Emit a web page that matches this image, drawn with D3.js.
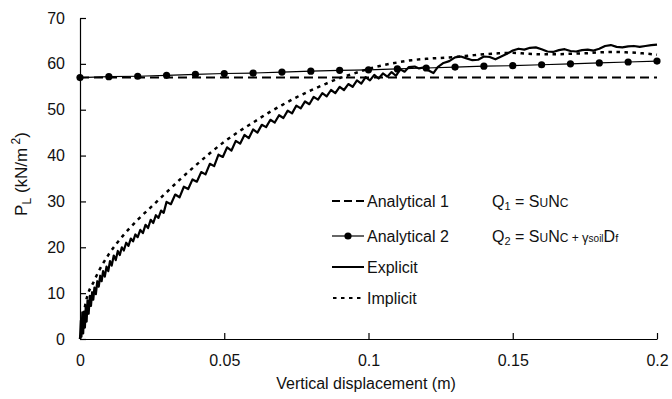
<!DOCTYPE html>
<html><head><meta charset="utf-8">
<script src="https://cdn.jsdelivr.net/npm/d3@7"></script>
<style>
body{margin:0;background:#fff;}
svg{display:block;font-family:"Liberation Sans",Arial,sans-serif;}
</style></head>
<body><svg id="c" width="672" height="399"></svg>
<script>
const xTicks = [0, 0.05, 0.1, 0.15, 0.2];
const xTickLabels = ["0", "0.05", "0.1", "0.15", "0.2"];
const yTicks = [0, 10, 20, 30, 40, 50, 60, 70];

const analytical1 = [[0, 57], [0.2, 57]];
const analytical2 = [[0,57.0],[0.01,57.2],[0.02,57.3],[0.03,57.5],[0.04,57.7],[0.05,57.9],[0.06,58.0],[0.07,58.2],[0.08,58.4],[0.09,58.6],[0.1,58.7],[0.11,58.9],[0.12,59.1],[0.13,59.3],[0.14,59.5],[0.15,59.6],[0.16,59.8],[0.17,60.0],[0.18,60.2],[0.19,60.4],[0.2,60.6]];

const explicit = [[0,0],[0.0003,4.0],[0.0005,0.5],[0.0008,5.8],[0.0011,1.2],[0.0014,6.0],[0.0017,2.5],[0.002,7.2],[0.0023,3.8],[0.0026,8.4],[0.003,5.5],[0.0034,9.4],[0.0038,7.2],[0.0042,10.2],[0.0046,8.6],[0.005,11.2],[0.0055,9.8],[0.006,12.6],[0.0065,11.4],[0.007,13.8],[0.0075,12.6],[0.008,14.8],[0.0086,13.6],[0.0092,15.8],[0.0098,14.8],[0.0104,17.0],[0.011,16.0],[0.0117,18.2],[0.0124,17.2],[0.0131,19.2],[0.0138,18.3],[0.0145,20.0],[0.0152,19.3],[0.016,21.0],[0.0168,20.3],[0.0176,21.9],[0.0184,21.3],[0.0192,22.8],[0.02,22.2],[0.0209,23.8],[0.0218,23.1],[0.0227,24.9],[0.0236,24.2],[0.0245,26.0],[0.0254,25.3],[0.0263,27.0],[0.0272,26.4],[0.0281,28.0],[0.029,27.5],
[0.03,29.9],[0.0315,29.4],[0.033,31.5],[0.0345,30.9],[0.036,33.2],[0.0375,32.7],[0.039,34.8],[0.0405,34.3],[0.042,36.4],[0.0435,35.9],[0.045,38.2],[0.0465,37.7],[0.048,40.2],[0.0495,39.7],[0.051,41.8],[0.0525,41.1],[0.054,43.2],[0.0555,42.6],[0.057,44.5],[0.0585,43.8],[0.06,45.7],[0.0615,45.0],[0.063,46.7],[0.0645,46.2],[0.066,47.8],[0.0675,47.2],[0.069,48.8],[0.0705,48.2],[0.072,49.8],[0.0735,49.2],[0.075,50.9],[0.0765,50.3],[0.078,51.8],[0.0795,51.2],[0.081,52.8],[0.0825,52.2],[0.084,53.6],[0.0855,52.9],[0.087,54.3],[0.0885,53.6],[0.09,55.0],[0.0915,54.3],[0.093,55.6],[0.0945,55.0],[0.096,56.4],[0.0975,55.7],[0.099,57.1],[0.1005,56.4],[0.102,57.6],[0.1035,56.8],[0.105,57.9],[0.1065,57.2],[0.108,58.2],[0.1095,57.4],[0.111,58.8],[0.1125,58.3],[0.114,59.3],[0.116,59.4],[0.1175,59.0],[0.119,59.2],[0.121,58.5],[0.1225,58.0],[0.124,59.3],[0.126,60.2],[0.128,60.6],[0.13,61.4],[0.132,61.6],[0.134,61.2],[0.136,60.8],[0.138,60.9],[0.14,61.6],[0.142,61.5],[0.144,61.0],[0.146,61.6],[0.148,62.2],[0.15,62.9],[0.152,63.3],[0.154,63.1],[0.156,63.5],[0.158,63.6],[0.16,63.2],[0.162,62.7],[0.164,62.6],[0.166,63.0],[0.168,63.2],[0.17,62.8],[0.172,62.7],[0.174,63.0],[0.176,63.1],[0.178,62.9],[0.18,63.3],[0.182,63.9],[0.184,64.1],[0.186,63.7],[0.188,63.6],[0.19,63.8],[0.192,63.9],[0.194,63.7],[0.196,63.9],[0.198,64.1],[0.2,64.2]];

const implicit = [[0,0],[0.002,8.0],[0.005,12.8],[0.01,18.5],[0.015,22.6],[0.02,26.0],[0.025,29.0],[0.03,32.0],[0.035,35.0],[0.04,37.8],[0.045,40.5],[0.05,43.0],[0.055,45.2],[0.06,47.2],[0.065,49.2],[0.07,51.0],[0.075,52.7],[0.08,54.2],[0.085,55.6],[0.09,56.9],[0.095,57.9],[0.1,58.9],[0.105,59.7],[0.11,60.3],[0.115,60.8],[0.12,61.1],[0.125,61.3],[0.13,61.5],[0.135,61.8],[0.14,62.1],[0.145,62.3],[0.15,62.4],[0.155,62.2],[0.16,62.1],[0.165,62.1],[0.17,62.2],[0.175,62.3],[0.18,62.5],[0.185,62.6],[0.19,62.5],[0.195,62.3],[0.2,62.0]];

const legendLabels = ["Analytical 1", "Analytical 2", "Explicit", "Implicit"];

const svg = d3.select("#c");
const x = d3.scaleLinear().domain([0, 0.2]).range([80, 657]);
const y = d3.scaleLinear().domain([0, 70]).range([339, 18]);

const line = d3.line().x(d => x(d[0])).y(d => y(d[1]));

// axes
const ya = svg.append("g").attr("transform", "translate(80,0)")
  .call(d3.axisLeft(y).tickValues(yTicks).tickSizeInner(-6).tickSizeOuter(0).tickPadding(15));
const xa = svg.append("g").attr("transform", "translate(0,339)")
  .call(d3.axisBottom(x).tickValues(xTicks).tickFormat((d,i) => xTickLabels[i]).tickSizeInner(-6).tickSizeOuter(0).tickPadding(16));
[ya, xa].forEach(a => {
  a.selectAll("path,line").attr("stroke", "#000").attr("stroke-width", 1.2);
  a.selectAll("text").attr("font-size", 16).attr("fill", "#111").attr("font-family", "Liberation Sans, Arial, sans-serif");
});

// series
svg.append("path").datum(analytical1).attr("d", line).attr("fill", "none")
  .attr("stroke", "#000").attr("stroke-width", 2).attr("stroke-dasharray", "9,5");
svg.append("path").datum(implicit).attr("d", line.curve(d3.curveMonotoneX)).attr("fill", "none")
  .attr("stroke", "#000").attr("stroke-width", 2.5).attr("stroke-dasharray", "3.5,4.5");
line.curve(d3.curveLinear);
svg.append("path").datum(explicit).attr("d", line).attr("fill", "none")
  .attr("stroke", "#000").attr("stroke-width", 2.2).attr("stroke-linejoin", "round");
svg.append("path").datum(analytical2).attr("d", line).attr("fill", "none")
  .attr("stroke", "#000").attr("stroke-width", 1.2);
svg.selectAll("circle.a2").data(analytical2).enter().append("circle").attr("class", "a2")
  .attr("cx", d => x(d[0])).attr("cy", d => y(d[1])).attr("r", 3.6).attr("fill", "#000");

// axis titles
svg.append("text").attr("x", 366).attr("y", 389).attr("text-anchor", "middle")
  .attr("font-size", 16).attr("fill", "#111").text("Vertical displacement (m)");
const yl = svg.append("text").attr("transform", "translate(27,174) rotate(-90)")
  .attr("text-anchor", "middle").attr("font-size", 17).attr("fill", "#111");
yl.append("tspan").text("P");
yl.append("tspan").attr("font-size", 12).attr("dy", 4).text("L");
yl.append("tspan").attr("dy", -4).text(" (kN/m");
yl.append("tspan").attr("font-size", 12).attr("dy", -7).text(" 2");
yl.append("tspan").attr("dy", 7).text(")");

// legend
const ly = [201, 236, 267, 298];
const lg = svg.append("g");
lg.append("line").attr("x1", 332).attr("x2", 364).attr("y1", ly[0]).attr("y2", ly[0])
  .attr("stroke", "#000").attr("stroke-width", 2).attr("stroke-dasharray", "8,4");
lg.append("line").attr("x1", 332).attr("x2", 364).attr("y1", ly[1]).attr("y2", ly[1])
  .attr("stroke", "#000").attr("stroke-width", 1.2);
lg.append("circle").attr("cx", 348).attr("cy", ly[1]).attr("r", 3.6).attr("fill", "#000");
lg.append("line").attr("x1", 332).attr("x2", 364).attr("y1", ly[2]).attr("y2", ly[2])
  .attr("stroke", "#000").attr("stroke-width", 2);
lg.append("line").attr("x1", 333).attr("x2", 364).attr("y1", ly[3]).attr("y2", ly[3])
  .attr("stroke", "#000").attr("stroke-width", 2).attr("stroke-dasharray", "3.5,4.5");
legendLabels.forEach((t, i) => {
  lg.append("text").attr("x", 367).attr("y", ly[i] + 6).attr("font-size", 16).attr("fill", "#111").text(t);
});

// equations
function eq(yPos, parts) {
  const t = svg.append("text").attr("x", 492).attr("y", yPos).attr("font-size", 16).attr("fill", "#111");
  parts.forEach(p => {
    const s = t.append("tspan").text(p[0]);
    if (p[1]) s.attr("font-size", p[1]);
    if (p[2]) s.attr("dy", p[2]);
  });
}
eq(207, [["Q"], ["1", 11, 3], [" = S", null, -3], ["U", 12], ["N"], ["C", 12]]);
eq(242, [["Q"], ["2", 11, 3], [" = S", null, -3], ["U", 12], ["N"], ["C", 12], [" + ", 12], ["γ", 13], ["soil", 10], ["D"], ["f", 11]]);
</script></body></html>
